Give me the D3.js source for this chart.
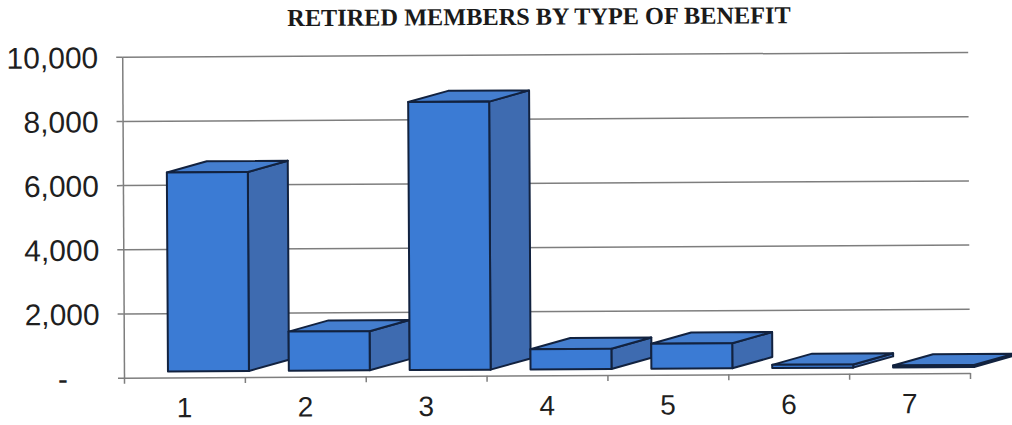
<!DOCTYPE html>
<html>
<head>
<meta charset="utf-8">
<script src="https://cdn.jsdelivr.net/npm/d3@7/dist/d3.min.js"></script>
<style>
  html, body { margin: 0; padding: 0; background: #fff; }
  svg { display: block; }
</style>
</head>
<body>
<svg id="chart" width="1012" height="425"></svg>
<script>
// Retired members, counted by type of benefit
const categories = ["1", "2", "3", "4", "5", "6", "7"];
const members = [6200, 1220, 8350, 630, 780, 100, 60];
const yTicks = [0, 2000, 4000, 6000, 8000, 10000];
const chartTitle = "RETIRED MEMBERS BY TYPE OF BENEFIT";

const plot = { left: 124, right: 970, top: 56.7, bottom: 377.7 };

const svg = d3.select("#chart");
// the whole sheet sits at a very slight tilt
const root = svg.append("g")
  .attr("transform", `rotate(-0.32, ${plot.left}, ${plot.bottom})`);

root.append("text")
  .attr("x", 541)
  .attr("y", 27)
  .attr("text-anchor", "middle")
  .attr("font-family", "'Liberation Serif', 'Times New Roman', serif")
  .attr("font-weight", "bold")
  .attr("font-size", 24.3)
  .attr("fill", "#1a1a1a")
  .text(chartTitle);

const x = d3.scaleBand().domain(categories).range([plot.left, plot.right]).padding(0);
const y = d3.scaleLinear().domain([0, 10000]).range([plot.bottom, plot.top]);
const bw = x.bandwidth();

// horizontal gridlines
const grid = root.append("g")
  .attr("transform", `translate(${plot.left},0)`)
  .call(d3.axisLeft(y).tickValues(yTicks.slice(1)).tickSize(-(plot.right - plot.left)).tickFormat(""));
grid.select(".domain").remove();
grid.selectAll(".tick line").attr("stroke", "#7e7e7e").attr("stroke-width", 1.5);

// value axis with labels
const yAxis = root.append("g")
  .attr("transform", `translate(${plot.left},0)`)
  .call(d3.axisLeft(y)
    .tickValues(yTicks)
    .tickSizeInner(6).tickSizeOuter(0).tickPadding(18)
    .tickFormat(d => d === 0 ? "-" : d3.format(",")(d)));
yAxis.select(".domain").attr("stroke", "#7e7e7e").attr("stroke-width", 1.5);
yAxis.selectAll(".tick line").attr("stroke", "#7e7e7e").attr("stroke-width", 1.5);
yAxis.selectAll(".tick text")
  .attr("font-family", "'Liberation Sans', Arial, sans-serif")
  .attr("font-size", 30)
  .attr("fill", "#1f1f1f")
  .attr("dy", "0.36em")
  .filter(d => d === 0)
  .attr("x", -56);

// category axis: line and boundary ticks
const xb = d3.scaleLinear().domain([0, categories.length]).range([plot.left, plot.right]);
const xLine = root.append("g")
  .attr("transform", `translate(0,${plot.bottom})`)
  .call(d3.axisBottom(xb).tickValues(d3.range(0, categories.length + 1)).tickSizeInner(6).tickSizeOuter(0).tickFormat(""));
xLine.select(".domain").attr("stroke", "#7e7e7e").attr("stroke-width", 1.5);
xLine.selectAll(".tick line").attr("stroke", "#7e7e7e").attr("stroke-width", 1.5);

// category labels
const xAxis = root.append("g")
  .attr("transform", `translate(0,${plot.bottom})`)
  .call(d3.axisBottom(x).tickSize(0).tickPadding(20));
xAxis.select(".domain").remove();
xAxis.selectAll(".tick text")
  .attr("font-family", "'Liberation Sans', Arial, sans-serif")
  .attr("font-size", 28)
  .attr("fill", "#1f1f1f");

// 3-D columns
const depthX = 0.331 * bw, depthY = 11;
const baseY = y(0) - 6;
const bars = root.append("g")
  .attr("stroke", "#12223f")
  .attr("stroke-width", 2)
  .attr("stroke-linejoin", "round");

categories.forEach((c, i) => {
  const x0 = x(c) + 0.364 * bw;
  const x1 = x(c) + 1.034 * bw;
  const top = baseY - (y(0) - y(members[i]));
  const g = bars.append("g");
  g.append("polygon")
    .attr("fill", "#3e6bb0")
    .attr("points", [[x1, baseY], [x1 + depthX, baseY - depthY], [x1 + depthX, top - depthY], [x1, top]].join(" "));
  g.append("polygon")
    .attr("fill", "#447ecf")
    .attr("points", [[x0, top], [x0 + depthX, top - depthY], [x1 + depthX, top - depthY], [x1, top]].join(" "));
  g.append("rect")
    .attr("fill", "#3b7bd4")
    .attr("x", x0).attr("y", top)
    .attr("width", x1 - x0).attr("height", baseY - top);
});
</script>
</body>
</html>
